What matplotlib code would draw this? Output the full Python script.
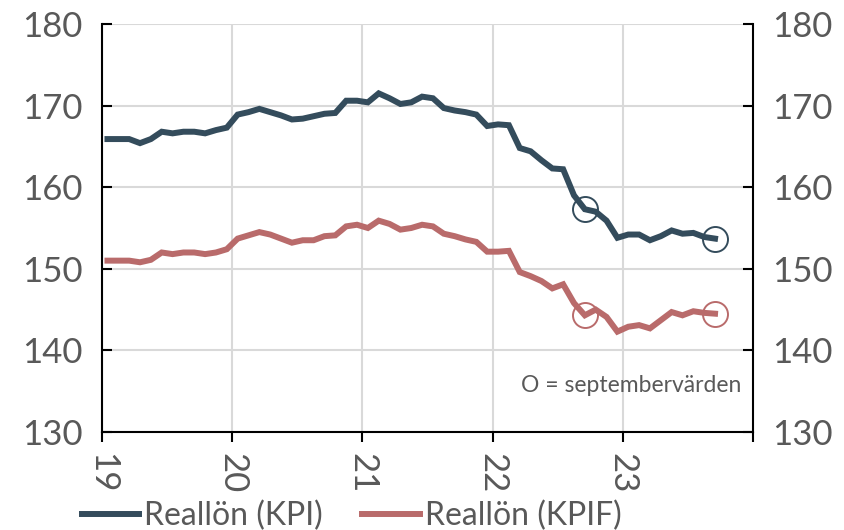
import matplotlib
matplotlib.use("Agg")
import matplotlib.pyplot as plt
import numpy as np

plt.rcParams["font.family"] = ["Lato", "DejaVu Sans"]

# Monthly real wage index, Jan 2019 - Sep 2023
kpi = [165.9, 165.9, 165.9, 165.4, 165.9, 166.8, 166.6, 166.8, 166.8, 166.6, 167.0, 167.3,
       168.9, 169.2, 169.6, 169.2, 168.8, 168.3, 168.4, 168.7, 169.0, 169.1, 170.6, 170.6,
       170.4, 171.5, 170.9, 170.2, 170.4, 171.1, 170.9, 169.7, 169.4, 169.2, 168.9, 167.5,
       167.7, 167.6, 164.8, 164.4, 163.3, 162.3, 162.2, 159.0, 157.3, 157.0, 155.9, 153.8,
       154.2, 154.2, 153.5, 154.0, 154.7, 154.3, 154.4, 153.9, 153.7]
kpif = [151.0, 151.0, 151.0, 150.8, 151.1, 152.0, 151.8, 152.0, 152.0, 151.8, 152.0, 152.4,
        153.7, 154.1, 154.5, 154.2, 153.7, 153.2, 153.5, 153.5, 154.0, 154.1, 155.2, 155.4,
        155.0, 155.9, 155.5, 154.8, 155.0, 155.4, 155.2, 154.3, 154.0, 153.6, 153.3, 152.1,
        152.1, 152.2, 149.6, 149.1, 148.5, 147.6, 148.1, 145.8, 144.3, 145.0, 144.1, 142.3,
        142.9, 143.1, 142.7, 143.7, 144.7, 144.3, 144.8, 144.6, 144.5]
year_labels = ["19", "20", "21", "22", "23"]
sept_idx = [44, 56]  # Sep 2022, Sep 2023

C_KPI = "#344c5c"
C_KPIF = "#b96b6b"
GRAY = "#595959"

x = np.arange(len(kpi)) + 0.5

fig = plt.figure(figsize=(8.44, 5.30), dpi=100)
ax = fig.add_axes([0.1209, 0.1849, 0.7713, 0.7698])

ax.plot(x, kpi, color=C_KPI, lw=4.3, label="Reallön (KPI)", solid_joinstyle="miter", zorder=3)
ax.plot(x, kpif, color=C_KPIF, lw=4.3, label="Reallön (KPIF)", solid_joinstyle="miter", zorder=3)
ax.plot(x[sept_idx], np.array(kpi)[sept_idx], "o", ms=18, mfc="none", mec=C_KPI, mew=1.4, zorder=4)
ax.plot(x[sept_idx], np.array(kpif)[sept_idx], "o", ms=18, mfc="none", mec=C_KPIF, mew=1.4, zorder=4)

ax.set_xlim(0, 60)
ax.set_ylim(130, 180)
ax.set_yticks(range(130, 181, 10))
ax.set_xticks(np.arange(len(year_labels)) * 12)
ax.set_xticks([60], minor=True)
ax.set_xticklabels(year_labels, rotation=270, fontsize=25, color=GRAY)
ax.grid(True, color="#d9d9d9", lw=1.5, zorder=0)

for s in ["left", "right", "bottom"]:
    ax.spines[s].set_linewidth(1.5)
ax.spines["top"].set_visible(False)

ax.tick_params(axis="y", direction="in", length=7, width=1.5, labelsize=25,
               labelcolor=GRAY, pad=14, left=True, right=True,
               labelleft=True, labelright=True)
ax.tick_params(axis="x", which="both", direction="out", length=7, width=1.5, pad=8)

ax.text(0.982, 0.115, "O = septembervärden", transform=ax.transAxes,
        ha="right", va="center", fontsize=16.5, color=GRAY)

fig.legend(loc="center", bbox_to_anchor=(0.4165, 0.027), ncol=2, frameon=False,
           fontsize=23, labelcolor=GRAY, handlelength=1.8, handletextpad=0.15,
           columnspacing=1.25, borderaxespad=0)

fig.savefig("out.png", dpi=100)
